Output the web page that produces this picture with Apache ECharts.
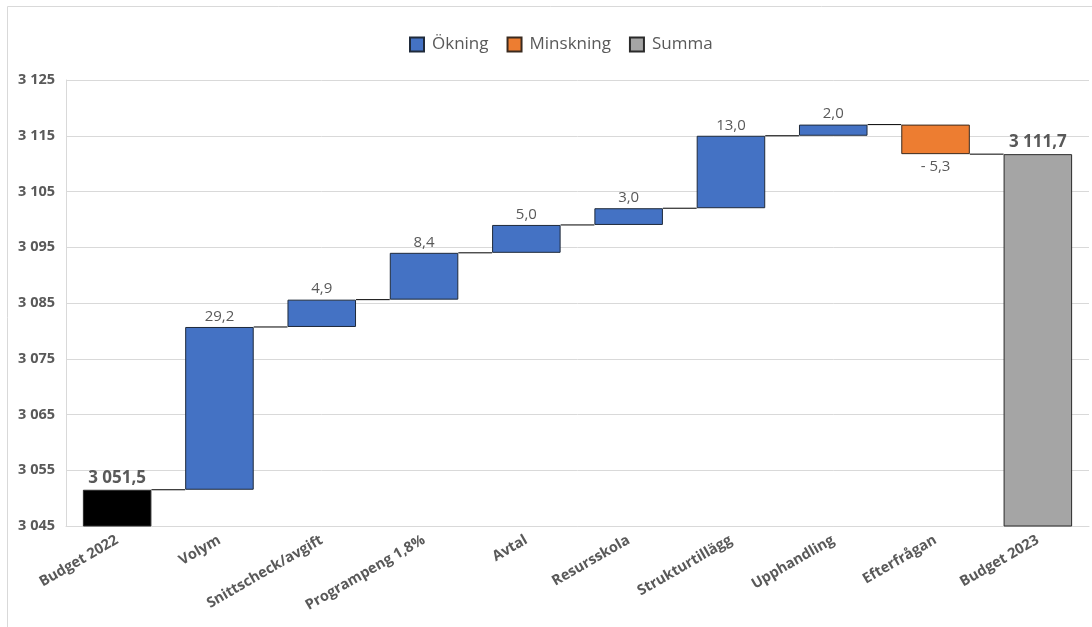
<!DOCTYPE html>
<html>
<head>
<meta charset="utf-8">
<script src="https://cdn.jsdelivr.net/npm/echarts@6/dist/echarts.min.js"></script>
<style>
html,body{margin:0;padding:0;background:#fff;}
#c{width:1092px;height:627px;}
</style>
</head>
<body>
<div id="c"></div>
<script>
// ---- data ----
var categories = ['Budget 2022','Volym','Snittscheck/avgift','Programpeng 1,8%','Avtal','Resursskola','Strukturtillägg','Upphandling','Efterfrågan','Budget 2023'];
var startValue = 3051.5;
var changes = [29.2, 4.9, 8.4, 5.0, 3.0, 13.0, 2.0, -5.3]; // Volym .. Efterfrågan
var totalValue = 3111.7;
var yTicks = {min: 3045, max: 3125, interval: 10};

// ---- derived ----
function r1(v){ return Math.round(v*10)/10; }
var n = categories.length;
var base = new Array(n).fill(0);
var inc = new Array(n).fill('-');
var dec = new Array(n).fill('-');
var sum = new Array(n).fill('-');
var levels = [];
var running = startValue;
sum[0] = {value: startValue, itemStyle:{color:'#000000'}};
levels.push(running);
changes.forEach(function(c, k){
  var i = k + 1;
  var next = r1(running + c);
  if (c >= 0) { base[i] = running; inc[i] = c; }
  else { base[i] = next; dec[i] = -c; }
  running = next;
  levels.push(running);
});
sum[n-1] = totalValue;

function fmtNum(v, dec){
  var neg = v < 0;
  var s = Math.abs(v).toFixed(dec);
  var parts = s.split('.');
  var ip = parts[0].replace(/\B(?=(\d{3})+(?!\d))/g, ' ');
  return (neg ? '- ' : '') + ip + (parts[1] ? ',' + parts[1] : '');
}

var FONT = '"Open Sans", "Noto Sans", sans-serif';
var TXT = '#595959';
var BW = 0.67;

var chart = echarts.init(document.getElementById('c'));
chart.setOption({
  animation: false,
  textStyle: {fontFamily: FONT},
  graphic: [{type:'rect', shape:{x:7.5, y:6.5, width:1200, height:800}, style:{fill:'none', stroke:'#d9d9d9', lineWidth:1}, silent:true, z:-10}],
  legend: {
    data: ['Ökning','Minskning','Summa'],
    top: 31, left: 404,
    itemWidth: 14, itemHeight: 14, itemGap: 18,
    textStyle: {fontSize: 17, color: TXT, fontFamily: FONT, padding: [0,0,0,3]},
    icon: 'rect'
  },
  grid: {left: 66, right: 3, top: 80, bottom: 101},
  xAxis: {
    type: 'category', data: categories,
    axisLine: {show: true, lineStyle: {color: '#d9d9d9'}},
    axisTick: {show: false},
    axisLabel: {rotate: 30, interval: 0, fontWeight: 'bold', fontSize: 14.5, color: TXT, margin: 13, fontFamily: FONT}
  },
  yAxis: {
    type: 'value', min: yTicks.min, max: yTicks.max, interval: yTicks.interval,
    axisLine: {show: true, lineStyle: {color: '#d9d9d9'}},
    axisTick: {show: false},
    splitLine: {lineStyle: {color: '#d9d9d9'}},
    axisLabel: {fontWeight: 'bold', fontSize: 14.5, color: TXT, margin: 11, fontFamily: FONT,
      formatter: function(v){ return fmtNum(v, 0); }}
  },
  series: [
    {name:'base', type:'bar', stack:'w', data: base, barWidth: (BW*100)+'%', silent:true,
     itemStyle:{color:'rgba(0,0,0,0)', borderColor:'rgba(0,0,0,0)'}, emphasis:{disabled:true}},
    {name:'Ökning', type:'bar', stack:'w', data: inc, barWidth: (BW*100)+'%',
     itemStyle:{color:'#4472C4', borderColor:'#1f2a3a', borderWidth:1},
     label:{show:true, position:'top', distance:3, fontSize:15, color:TXT, fontFamily:FONT,
       formatter:function(p){ return fmtNum(p.value,1); }}},
    {name:'Minskning', type:'bar', stack:'w', data: dec, barWidth: (BW*100)+'%',
     itemStyle:{color:'#ED7D31', borderColor:'#3a2a1f', borderWidth:1},
     label:{show:true, position:'bottom', distance:5, fontSize:15, color:TXT, fontFamily:FONT,
       formatter:function(p){ return fmtNum(-p.value,1); }}},
    {name:'Summa', type:'bar', stack:'w', data: sum, barWidth: (BW*100)+'%',
     itemStyle:{color:'#A5A5A5', borderColor:'#2a2a2a', borderWidth:1},
     label:{show:true, position:'top', distance:3, fontSize:17, fontWeight:'bold', color:TXT, fontFamily:FONT,
       formatter:function(p){ return fmtNum(p.value,1); }}},
    {name:'connectors', type:'custom', silent:true, z:1,
     data: levels.map(function(l, i){ return [i, l]; }),
     renderItem: function(params, api){
       var i = api.value(0), y = api.value(1);
       var p0 = api.coord([i, y]);
       var p1 = api.coord([i+1, y]);
       var hw = api.size([1, 0])[0] * BW / 2;
       return {type:'line', shape:{x1:p0[0]+hw, y1:p0[1], x2:p1[0]-hw, y2:p1[1]},
               style:{stroke:'#000', lineWidth:1}};
     }}
  ]
});
</script>
</body>
</html>
